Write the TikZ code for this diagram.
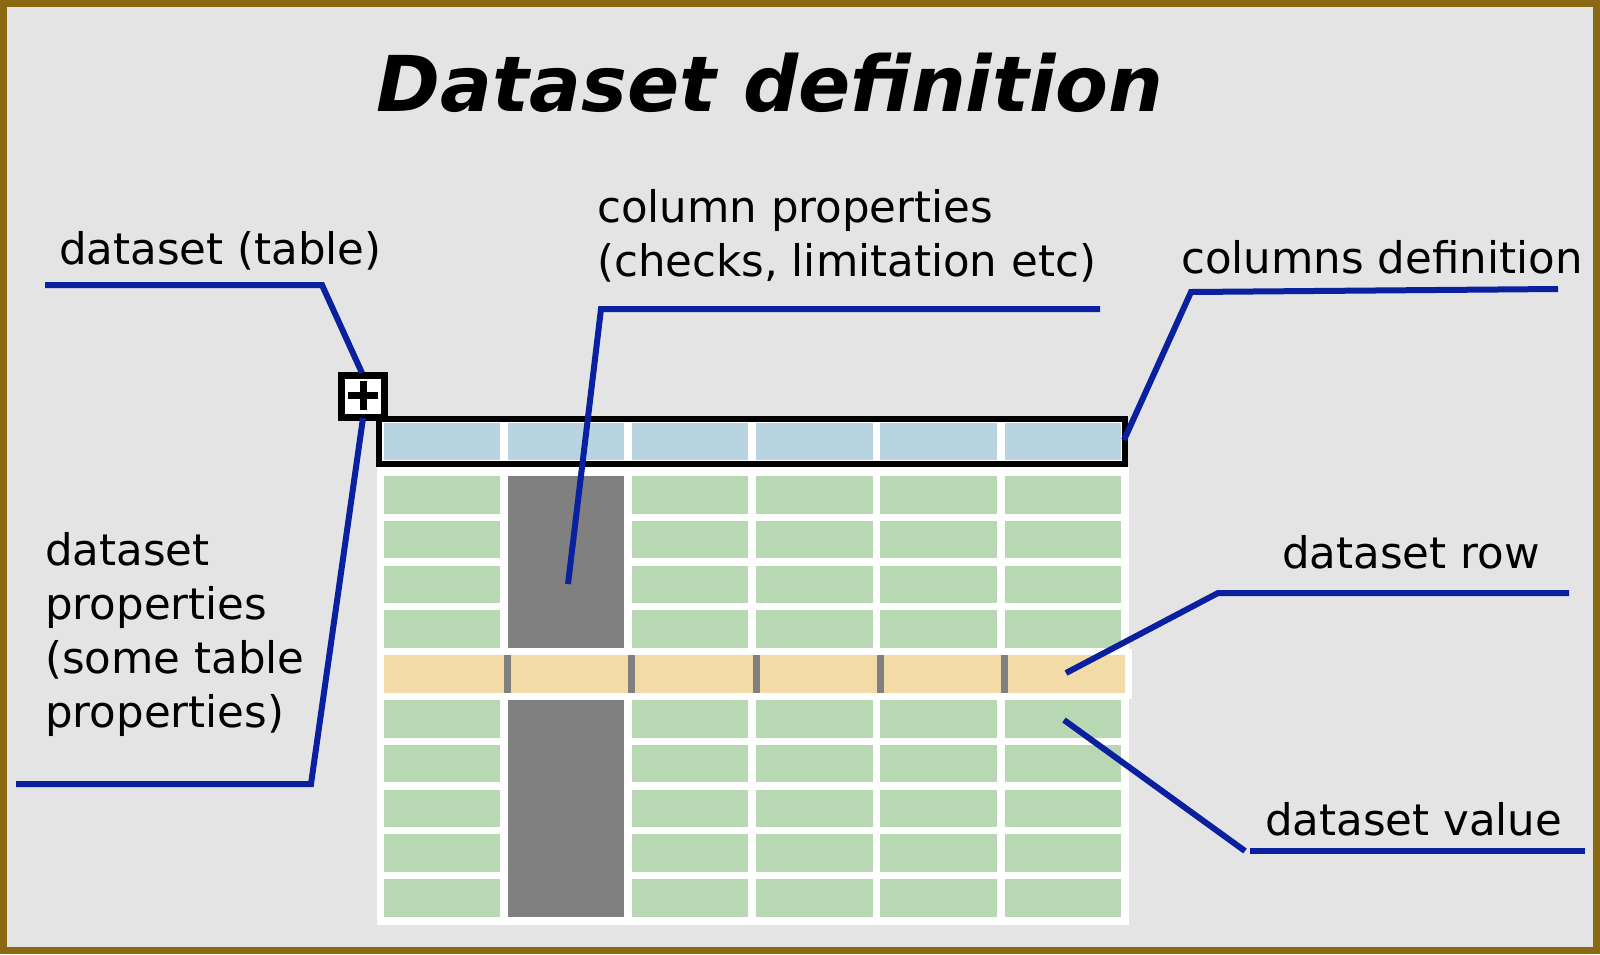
\documentclass[tikz,border=0pt]{standalone}
\usepackage{fontspec}
\setmainfont{DejaVu Sans}

\definecolor{frame}{RGB}{139,105,20}
\definecolor{paper}{RGB}{228,228,228}
\definecolor{headblue}{RGB}{184,212,225}
\definecolor{cellgreen}{RGB}{184,216,180}
\definecolor{rowyellow}{RGB}{242,219,166}
\definecolor{colgray}{RGB}{128,128,128}
\definecolor{pointer}{RGB}{10,32,158}

\tikzset{
  notetext/.style={anchor=base west,inner sep=0pt,align=left,font=\fontsize{43.5}{54}\selectfont},
  pointerline/.style={draw=pointer,line width=6pt},
}

\begin{document}
\begin{tikzpicture}[x=1pt,y=-1pt]
\useasboundingbox (0,0) rectangle (1600,954);
\fill[frame] (0,0) rectangle (1600,954);
\fill[paper] (7,7) rectangle (1593,947);

\node[anchor=base,inner sep=0pt,font=\fontsize{77}{92}\selectfont\bfseries\itshape] (title) at (770,111) {Dataset definition};

% table body
\fill[white] (377,467) rectangle (1129,925);
\fill[white] (377,649) rectangle (1132,699);
\foreach \i in {0,...,5}
  \foreach \r in {0,1,2,3,5,6,7,8,9}
    \fill[cellgreen] ({383.5+124.2*\i},{476+44.8*\r}) rectangle +(116.5,37.5);
\fill[colgray] (507.7,476) rectangle (624.2,648);
\fill[colgray] (507.7,700) rectangle (624.2,917);
\fill[rowyellow] (384,655.2) rectangle (1125,692.7);
\foreach \i in {1,...,5}
  \fill[colgray] ({380+124.2*\i},655.2) rectangle +(7,37.5);

% header
\fill[white] (379,419) rectangle (1125,464);
\foreach \i in {0,...,5}
  \fill[headblue] ({383.5+124.2*\i},423) rectangle +(116.5,37);
\draw[line width=6pt] (379,419) rectangle (1125,464);

% plus box
\fill[white] (341.5,375.5) rectangle (384.5,417.5);
\draw[line width=7pt] (341.5,375.5) rectangle (384.5,417.5);
\draw[line width=7pt] (348,395) -- (378,395) (363,381) -- (363,410);

% texts (base = last line)
\node[notetext] (tbl) at (59,264) {dataset (table)};
\node[notetext] (colprop) at (597,276) {column properties\\(checks, limitation etc)};
\node[notetext] (coldef) at (1181,273) {columns definition};
\node[notetext] (dsprop) at (45,727) {dataset\\properties\\(some table\\properties)};
\node[notetext] (dsrow) at (1282,568) {dataset row};
\node[notetext] (dsval) at (1265,835) {dataset value};

% pointer lines
\coordinate (tbl-a) at (45,285);
\coordinate (tbl-b) at (322,285);
\coordinate (plus-top) at (362,373);
\coordinate (plus-bot) at (363,418);
\coordinate (dsprop-b) at (311,784);
\coordinate (dsprop-a) at (16,784);
\coordinate (colprop-a) at (1100,309);
\coordinate (colprop-b) at (601,309);
\coordinate (gray-col) at (568,584);
\coordinate (head-end) at (1124,440);
\coordinate (coldef-b) at (1191,292);
\coordinate (coldef-a) at (1558,289);
\coordinate (yel-row) at (1066,673);
\coordinate (dsrow-b) at (1218,593);
\coordinate (dsrow-a) at (1569,593);
\coordinate (green-cell) at (1064,720);
\coordinate (dsval-b) at (1245,851);
\coordinate (dsval-c) at (1250,851);
\coordinate (dsval-a) at (1585,851);

\draw[pointerline] (tbl-a) -- (tbl-b) -- (plus-top);
\draw[pointerline] (plus-bot) -- (dsprop-b) -- (dsprop-a);
\draw[pointerline] (colprop-a) -- (colprop-b) -- (gray-col);
\draw[pointerline] (head-end) -- (coldef-b) -- (coldef-a);
\draw[pointerline] (yel-row) -- (dsrow-b) -- (dsrow-a);
\draw[pointerline] (green-cell) -- (dsval-b);
\draw[pointerline] (dsval-c) -- (dsval-a);
\end{tikzpicture}
\end{document}
